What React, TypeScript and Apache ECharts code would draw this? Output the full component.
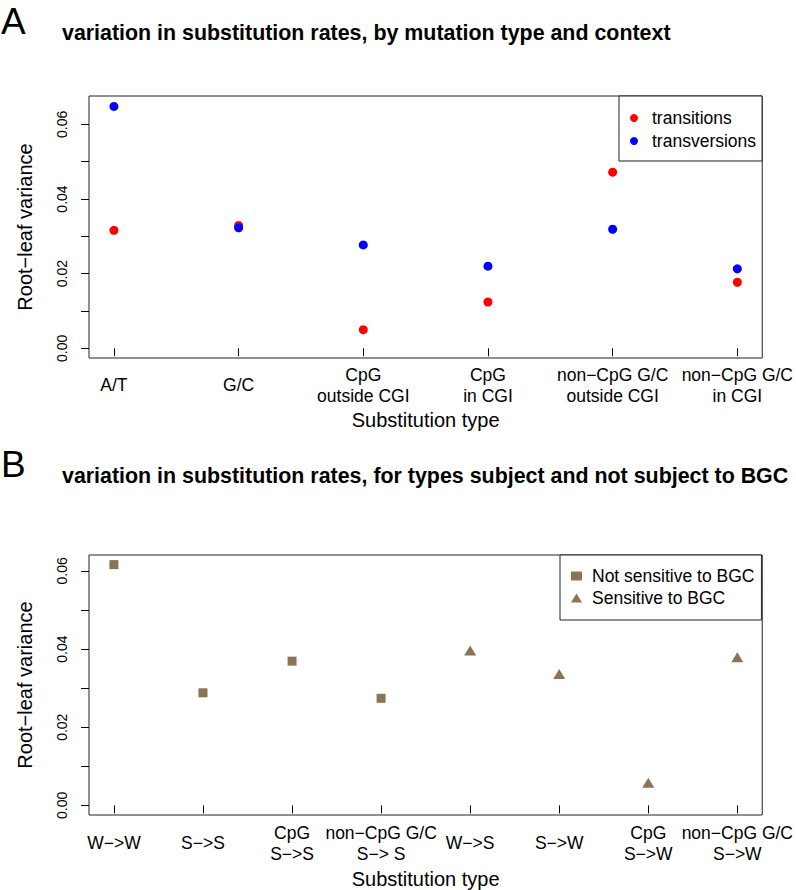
import React, { useEffect, useRef } from "react";
import * as echarts from "echarts";

const typesA = ["A/T", "G/C", "CpG\noutside CGI", "CpG\nin CGI", "non\u2212CpG G/C\noutside CGI", "non\u2212CpG G/C\nin CGI"];
const transitions = [0.0316, 0.0329, 0.005, 0.0124, 0.0472, 0.0177];
const transversions = [0.0648, 0.0323, 0.0277, 0.022, 0.0319, 0.0213];

const typesB = ["W\u2212>W", "S\u2212>S", "CpG\nS\u2212>S", "non\u2212CpG G/C\nS\u2212> S", "W\u2212>S", "S\u2212>W", "CpG\nS\u2212>W", "non\u2212CpG G/C\nS\u2212>W"];
const notSensitive = [0.0616, 0.0288, 0.0369, 0.0274];
const sensitive = [0.0396, 0.0336, 0.0058, 0.0379];

const yTicks = [0, 0.01, 0.02, 0.03, 0.04, 0.05, 0.06];
const yLabels = [0, 0.02, 0.04, 0.06];

const titleA = "variation in substitution rates, by mutation type and context";
const titleB = "variation in substitution rates, for types subject and not subject to BGC";

const FONT = "'Liberation Sans', Arial, Helvetica, sans-serif";
const BROWN = "#8B7355";

function xAxisFor(cats: string[], gridIndex: number, nameGap: number, margin: number) {
  const n = cats.length;
  const pad = (n - 1) * 0.04;
  const idx = cats.map((_, i) => i + 1);
  return {
    type: "value",
    gridIndex,
    min: 1 - pad,
    max: n + pad,
    name: "Substitution type",
    nameLocation: "middle",
    nameGap,
    nameTextStyle: { fontSize: 20, color: "#000", verticalAlign: "middle", fontFamily: FONT },
    axisLine: { show: false },
    splitLine: { show: false },
    axisTick: { show: true, inside: false, length: 8, customValues: idx, lineStyle: { color: "#000" } },
    axisLabel: {
      show: true,
      customValues: idx,
      margin,
      verticalAlign: "middle",
      lineHeight: 21,
      fontSize: 17.5,
      color: "#000",
      fontFamily: FONT,
      formatter: (v: number) => cats[Math.round(v) - 1] ?? "",
    },
  };
}

function yAxisFor(gridIndex: number, min: number, max: number) {
  return {
    type: "value",
    gridIndex,
    min,
    max,
    name: "Root\u2212leaf variance",
    nameLocation: "middle",
    nameGap: 64,
    nameTextStyle: { fontSize: 20, color: "#000", verticalAlign: "middle", fontFamily: FONT },
    axisLine: { show: false },
    splitLine: { show: false },
    axisTick: { show: true, inside: false, length: 8, customValues: yTicks, lineStyle: { color: "#000" } },
    axisLabel: {
      show: true,
      customValues: yLabels,
      rotate: 90,
      margin: 20,
      fontSize: 14,
      color: "#000",
      fontFamily: "'Liberation Sans Narrow', 'Liberation Sans', Arial, sans-serif",
      formatter: (v: number) => v.toFixed(2),
    },
  };
}

export default function App() {
  const ref = useRef<HTMLDivElement>(null);
  useEffect(() => {
    if (!ref.current) return;
    const chart = echarts.init(ref.current, undefined, { renderer: "svg" });
    const option: any = {
      animation: false,
      backgroundColor: "#fff",
      textStyle: { fontFamily: FONT },
      grid: [
        { left: 89, right: 32, top: 96, height: 262, show: true, borderColor: "#222", borderWidth: 1, backgroundColor: "transparent" },
        { left: 89, right: 32, top: 555, height: 261, show: true, borderColor: "#222", borderWidth: 1, backgroundColor: "transparent" },
      ],
      xAxis: [xAxisFor(typesA, 0, 62, 27), xAxisFor(typesB, 1, 64, 28)],
      yAxis: [yAxisFor(0, -0.0026, 0.0676), yAxisFor(1, -0.00246, 0.06406)],
      legend: [
        {
          data: [
            { name: "transitions", icon: "circle" },
            { name: "transversions", icon: "circle" },
          ],
          orient: "vertical",
          left: 619,
          top: 96,
          padding: [12, 6, 10, 11],
          itemWidth: 8,
          itemHeight: 8,
          itemGap: 3,
          borderColor: "#222",
          borderWidth: 1,
          borderRadius: 0,
          backgroundColor: "#fff",
          selectedMode: false,
          textStyle: { fontSize: 17.5, lineHeight: 20, color: "#000", padding: [0, 0, 0, 9], fontFamily: FONT },
        },
        {
          data: [
            { name: "Not sensitive to BGC", icon: "rect" },
            { name: "Sensitive to BGC", icon: "triangle" },
          ],
          orient: "vertical",
          left: 560,
          top: 555,
          padding: [11, 7, 12, 11],
          itemWidth: 11,
          itemHeight: 9,
          itemGap: 2,
          borderColor: "#222",
          borderWidth: 1,
          borderRadius: 0,
          backgroundColor: "#fff",
          selectedMode: false,
          textStyle: { fontSize: 17.5, lineHeight: 20, color: "#000", padding: [0, 0, 0, 5], fontFamily: FONT },
        },
      ],
      graphic: [
        { type: "text", x: 1, y: 21, style: { text: "A", font: `37px ${FONT}`, fill: "#000", align: "left", verticalAlign: "middle" } },
        { type: "text", x: 62, y: 33, style: { text: titleA, font: `bold 21.4px ${FONT}`, fill: "#000", align: "left", verticalAlign: "middle" } },
        { type: "text", x: 1, y: 464, style: { text: "B", font: `37px ${FONT}`, fill: "#000", align: "left", verticalAlign: "middle" } },
        { type: "text", x: 62, y: 476, style: { text: titleB, font: `bold 21.4px ${FONT}`, fill: "#000", align: "left", verticalAlign: "middle" } },
      ],
      series: [
        {
          name: "transitions",
          type: "scatter",
          xAxisIndex: 0,
          yAxisIndex: 0,
          symbol: "circle",
          symbolSize: 9,
          itemStyle: { color: "#ff0000", opacity: 1 },
          data: transitions.map((v, i) => [i + 1, v]),
        },
        {
          name: "transversions",
          type: "scatter",
          xAxisIndex: 0,
          yAxisIndex: 0,
          symbol: "circle",
          symbolSize: 9,
          itemStyle: { color: "#0000ff", opacity: 1 },
          data: transversions.map((v, i) => [i + 1, v]),
        },
        {
          name: "Not sensitive to BGC",
          type: "scatter",
          xAxisIndex: 1,
          yAxisIndex: 1,
          symbol: "rect",
          symbolSize: 9,
          itemStyle: { color: BROWN, opacity: 1 },
          data: notSensitive.map((v, i) => [i + 1, v]),
        },
        {
          name: "Sensitive to BGC",
          type: "scatter",
          xAxisIndex: 1,
          yAxisIndex: 1,
          symbol: "triangle",
          symbolSize: [12, 10],
          itemStyle: { color: BROWN, opacity: 1 },
          data: sensitive.map((v, i) => [i + 1 + notSensitive.length, v]),
        },
      ],
    };
    chart.setOption(option);
    return () => chart.dispose();
  }, []);
  return <div ref={ref} style={{ position: "absolute", left: 0, top: 0, width: 796, height: 890 }} />;
}
